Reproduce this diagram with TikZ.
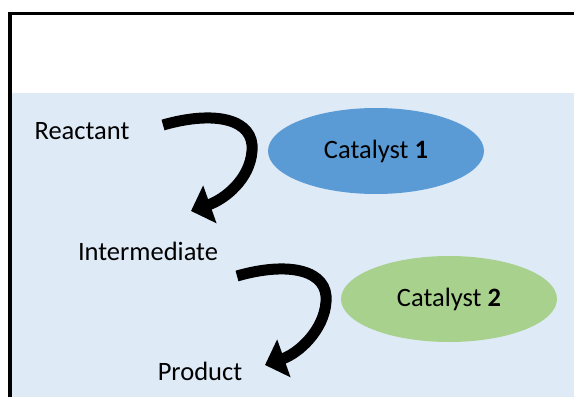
\documentclass[tikz,border=0pt]{standalone}
\usepackage{fontspec}
\setmainfont{Carlito}
\usepackage{tikz}
\usetikzlibrary{arrows.meta,positioning,calc,shapes.geometric}
\definecolor{paleBlue}{RGB}{222,235,247}
\definecolor{catBlue}{RGB}{91,155,213}
\definecolor{catGreen}{RGB}{169,209,142}

\begin{document}
\begin{tikzpicture}[x=1pt,y=-1pt,
  lbl/.style={font=\fontsize{26.5}{30}\selectfont,inner sep=0pt},
  cat/.style={ellipse,minimum width=216pt,minimum height=86pt,inner sep=0pt,
    font=\fontsize{26.5}{30}\selectfont},
  curly/.style={-{Triangle[length=20pt,width=39pt]},line width=11pt}]
  \useasboundingbox (0,0) rectangle (574,397);
  % panel: white strip on top, pale blue body, black frame on left/top
  \fill[paleBlue] (12,93) rectangle (574,397);
  \draw[line width=3.5pt] (10,397) -- (10,13.5) -- (574,13.5);
  % species
  \node[lbl] (react) at (82,131) {Reactant};
  \node[lbl] (inter) at (148,251) {Intermediate};
  \node[lbl] (prod) at (200,371) {Product};
  % catalysts
  \node[cat,fill=catBlue] (cat1) at (376,151) {Catalyst \textbf{1}};
  \node[cat,fill=catGreen] (cat2) at (449,299) {Catalyst \textbf{2}};
  % arrow ends and turning points
  \coordinate (t1) at (163,125);
  \coordinate (m1) at (252,151);
  \coordinate (h1) at (191,211);
  \coordinate (t2) at (237,276);
  \coordinate (m2) at (326,302);
  \coordinate (h2) at (265,365);
  % curved arrows
  \draw[curly] (t1) .. controls ($(t1)+(52,-15)$) and ($(m1)+(3,-32)$) .. (m1)
    .. controls ($(m1)+(-2,28)$) and ($(h1)+(34,-12)$) .. (h1);
  \draw[curly] (t2) .. controls ($(t2)+(52,-15)$) and ($(m2)+(3,-32)$) .. (m2)
    .. controls ($(m2)+(-2,28)$) and ($(h2)+(34,-12)$) .. (h2);
\end{tikzpicture}
\end{document}
